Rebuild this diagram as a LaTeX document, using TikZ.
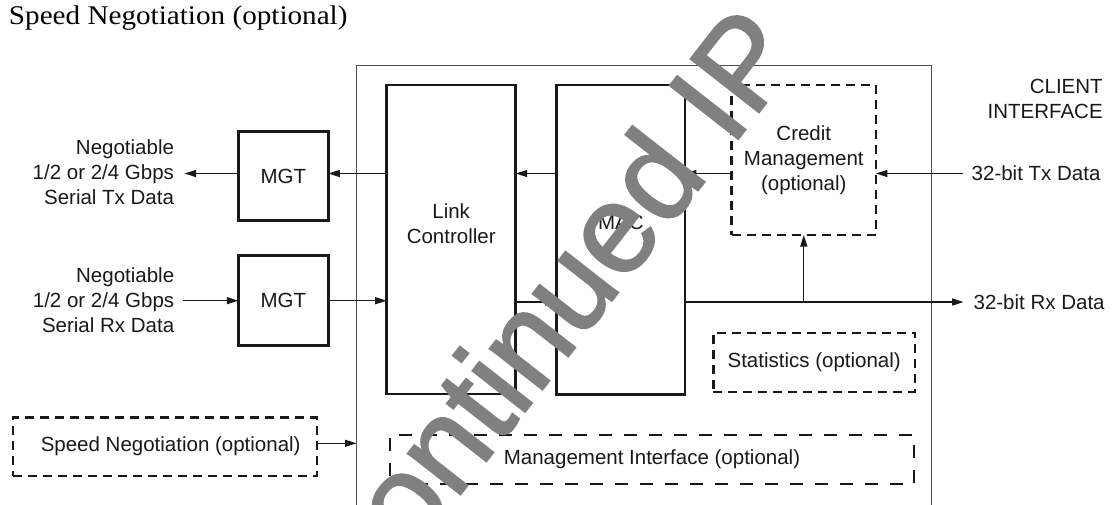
\documentclass[tikz,border=0pt]{standalone}
\usepackage{fontspec}
\setmainfont{Liberation Sans}
\newfontfamily\titlefont{Liberation Serif}
\newfontfamily\stampfont[FakeBold=1.6]{Liberation Sans}
\usetikzlibrary{arrows.meta}

\begin{document}
\begin{tikzpicture}[x=1pt,y=-1pt,
  every node/.style={inner sep=0pt, outer sep=0pt},
  lbl/.style={font=\fontsize{20.5}{25}\selectfont, text=black!90},
  solidbox/.style={draw=black!90, line width=2.6pt},
  optbox/.style={draw=black!90, line width=2.4pt, dash pattern=on 9pt off 6pt},
  longdash/.style={draw=black!90, line width=2.4pt, dash pattern=on 13pt off 12pt},
  outerbox/.style={draw=black!70, line width=1.5pt},
  conn/.style={draw=black!90, line width=1.3pt},
  arr/.style={conn, -{Triangle[length=11.5pt,width=7pt]}},
]
\useasboundingbox (0,0) rectangle (1118,504);
\clip (0,0) rectangle (1118,504);

% title
\node[font=\titlefont\fontsize{27}{30}\selectfont, xscale=1.08, anchor=base west] (title) at (9,24.6) {Speed Negotiation (optional)};

% core enclosure (runs past the lower edge)
\node[outerbox, minimum width=575.2pt, minimum height=474pt] (outer) at (644.1,302.7) {};

% rows of the data paths
\coordinate (txrow) at (0,173.5);
\coordinate (rxrow) at (0,302);

% solid blocks
\node[solidbox, lbl, minimum width=90pt, minimum height=89pt] (mgtT) at (283.3,176.2) {MGT};
\node[solidbox, lbl, minimum width=90pt, minimum height=90pt] (mgtR) at (283.3,300.7) {MGT};
\node[solidbox, minimum width=129pt, minimum height=309pt] (link) at (451.2,239.5) {};
\node[lbl, align=center] (linktxt) at (451.2,224) {Link\\Controller};
\node[solidbox, minimum width=128.3pt, minimum height=309.3pt] (mac) at (620.8,239.6) {};
\node[lbl] (mactxt) at (620.8,222) {MAC};

% optional blocks
\node[optbox, lbl, align=center, minimum width=144.3pt, minimum height=150pt] (credit) at (803.8,160) {Credit\\Management\\(optional)};
\node[optbox, lbl, minimum width=201.7pt, minimum height=59pt] (stats) at (814.2,362.2) {Statistics (optional)};
\node[longdash, lbl, minimum width=524pt, minimum height=49pt] (mgmt) at (652,459.5) {Management Interface (optional)};
\node[optbox, lbl, minimum width=304pt, minimum height=58.4pt] (speed) at (164.7,446.5) {\hspace{12pt}Speed Negotiation (optional)};

% outside labels
\node[lbl, align=right, anchor=east, outer xsep=10.5pt] (serTx) at (184.5,172.5) {Negotiable\\1/2 or 2/4 Gbps\\Serial Tx Data};
\node[lbl, align=right, anchor=east, outer xsep=8.5pt] (serRx) at (182.7,300.5) {Negotiable\\1/2 or 2/4 Gbps\\Serial Rx Data};
\node[lbl, anchor=west, outer xsep=8.5pt] (txd) at (963.2,173.5) {32-bit Tx Data};
\node[lbl, anchor=west, outer xsep=10pt] (rxd) at (963.6,302) {32-bit Rx Data};
\node[lbl, align=right, anchor=east] (client) at (1102.7,98.5) {CLIENT\\INTERFACE};

% transmit path
\draw[arr] (txd.west) -- (credit.east |- txd.west);
\draw[arr] (credit.west |- txrow) -- (mac.east |- txrow);
\draw[arr] (mac.west |- txrow) -- (link.east |- txrow);
\draw[arr] (link.west |- txrow) -- (mgtT.east |- txrow);
\draw[arr] (mgtT.west |- txrow) -- (serTx.east |- txrow);

% receive path
\draw[arr] (serRx.east |- mgtR.east) -- (mgtR.west);
\draw[arr] (mgtR.east) -- (link.west |- mgtR.east);
\draw[arr] (link.east |- rxrow) -- (mac.west |- rxrow);
\draw[arr] (mac.east |- rxrow) -- (rxd.west);
\draw[arr] (credit.south |- rxrow) -- (credit.south);

% speed negotiation input
\draw[arr] (speed.east |- 0,443.3) -- (outer.west |- 0,443.3);

% watermark
\node[font=\stampfont\fontsize{126}{126}\selectfont, text=black!50, rotate=52, anchor=base west] (wm) at (261.2,749.4) {Discontinued IP};
\end{tikzpicture}
\end{document}
